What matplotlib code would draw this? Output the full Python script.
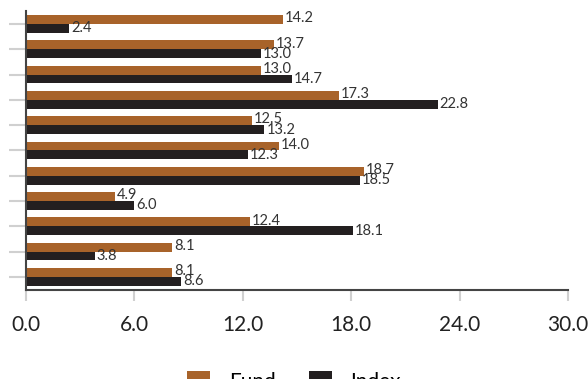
import matplotlib.pyplot as plt
import numpy as np

fund = [14.2, 13.7, 13.0, 17.3, 12.5, 14.0, 18.7, 4.9, 12.4, 8.1, 8.1]
index = [2.4, 13.0, 14.7, 22.8, 13.2, 12.3, 18.5, 6.0, 18.1, 3.8, 8.6]
xticks = [0, 6, 12, 18, 24, 30]

plt.rcParams['font.family'] = ['Lato', 'DejaVu Sans']

fig = plt.figure(figsize=(5.88, 3.79), dpi=100)
ax = fig.add_axes([0.0442, 0.236, 0.9218, 0.734])

n = len(fund)
y = np.arange(n)
h = 0.35
bars_f = ax.barh(y - h / 2, fund, height=h, color='#A8632A', label='Fund')
bars_i = ax.barh(y + h / 2, index, height=h, color='#231F20', label='Index')

for b, v in zip(bars_f, fund):
    ax.text(v + 0.1, b.get_y() + b.get_height() / 2 - 0.05, f'{v:.1f}',
            va='center', ha='left', fontsize=10.5, color='#333333')
for b, v in zip(bars_i, index):
    ax.text(v + 0.1, b.get_y() + b.get_height() / 2, f'{v:.1f}',
            va='center', ha='left', fontsize=10.5, color='#333333')

ax.set_ylim(n - 0.5, -0.5)
ax.set_xlim(0, 30)
ax.set_xticks(xticks)
ax.set_xticklabels([f'{t:.1f}' for t in xticks], fontsize=15, color='#222222')
ax.set_yticks(y)
ax.set_yticklabels([])
ax.tick_params(axis='x', length=8, width=1.5, color='#d0d0d0', pad=10)
ax.tick_params(axis='y', length=12, width=1.5, color='#d0d0d0')

for s in ['top', 'right']:
    ax.spines[s].set_visible(False)
ax.spines['left'].set_color('#444444')
ax.spines['bottom'].set_color('#444444')
ax.spines['left'].set_linewidth(1.5)
ax.spines['bottom'].set_linewidth(1.5)

fig.legend(handles=[bars_f, bars_i], labels=['Fund', 'Index'],
           loc='upper left', bbox_to_anchor=(0.318, 0.022), frameon=False,
           ncol=2, fontsize=15, handlelength=1.1, handleheight=1.1,
           handletextpad=0.9, columnspacing=1.6, borderpad=0, borderaxespad=0)

fig.savefig('out.png', dpi=100)
